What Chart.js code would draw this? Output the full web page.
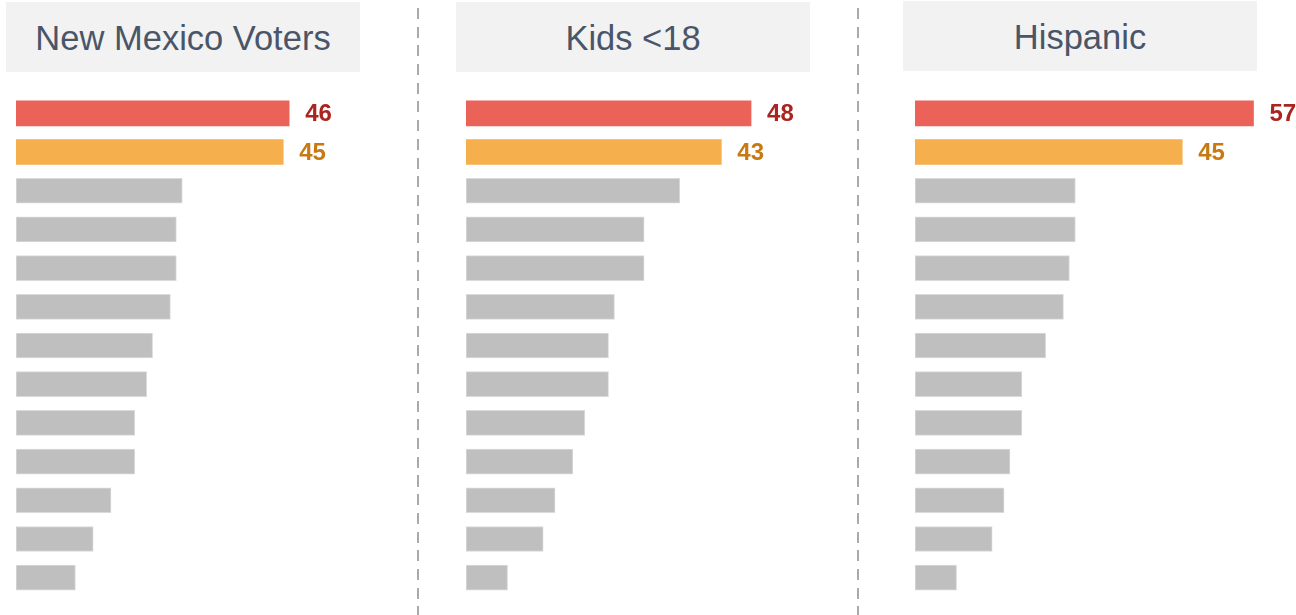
<!DOCTYPE html>
<html>
<head>
<meta charset="utf-8">
<script src="https://cdn.jsdelivr.net/npm/chart.js@4"></script>
<style>
  html, body { margin: 0; padding: 0; background: #fff; }
  body { width: 1296px; height: 615px; position: relative; overflow: hidden; font-family: "Liberation Sans", Arial, sans-serif; }
  .head {
    position: absolute; height: 70px; width: 354px;
    background: #f2f2f2; color: #4a5568;
    font-size: 34.5px; line-height: 72px; text-align: center;
  }
  .sep {
    position: absolute; top: 8px; width: 2px; height: 607px;
    background: repeating-linear-gradient(to bottom, #aaaaaa 0 11px, transparent 11px 18.7px);
  }
  .panel { position: absolute; top: 94px; width: 440px; height: 503px; }
</style>
</head>
<body>

<div class="head" style="left:6px; top:2px;">New Mexico Voters</div>
<div class="head" style="left:456px; top:2px;">Kids &lt;18</div>
<div class="head" style="left:903px; top:1px;">Hispanic</div>

<div class="sep" style="left:417px;"></div>
<div class="sep" style="left:857px;"></div>

<div class="panel" style="left:16px;"><canvas id="c1"></canvas></div>
<div class="panel" style="left:466px;"><canvas id="c2"></canvas></div>
<div class="panel" style="left:915px;"><canvas id="c3"></canvas></div>

<script>
// 🔧 Datos
const filas = ['1', '2', '3', '4', '5', '6', '7', '8', '9', '10', '11', '12', '13'];
const votantes = [46, 45, 28, 27, 27, 26, 23, 22, 20, 20, 16, 13, 10];
const ninos = [48, 43, 36, 30, 30, 25, 24, 24, 20, 18, 15, 13, 7];
const hispanos = [57, 45, 27, 27, 26, 25, 22, 18, 18, 16, 15, 13, 7];

const colorBarra = ['#eb6259', '#f5af4c'];
const colorEtiqueta = ['#ab241e', '#c87a12'];
const gris = '#bfbfbf';

// 👉 Etiquetas solo en las dos primeras barras
const etiquetas = {
  id: 'etiquetas',
  afterDatasetsDraw(chart) {
    const ctx = chart.ctx;
    const meta = chart.getDatasetMeta(0);
    const datos = chart.data.datasets[0].data;
    ctx.save();
    ctx.font = 'bold 24px "Liberation Sans", Arial, sans-serif';
    ctx.textBaseline = 'middle';
    ctx.textAlign = 'left';
    [0, 1].forEach(i => {
      const bar = meta.data[i];
      ctx.fillStyle = colorEtiqueta[i];
      ctx.fillText(String(datos[i]), bar.x + 16, bar.y + 1);
    });
    ctx.restore();
  }
};

function panel(id, valores) {
  new Chart(document.getElementById(id), {
    type: 'bar',
    data: {
      labels: filas,
      datasets: [{
        data: valores,
        backgroundColor: valores.map((v, i) => colorBarra[i] || gris),
        borderColor: valores.map((v, i) => i < 2 ? colorBarra[i] : '#dadada'),
        borderWidth: valores.map((v, i) => i < 2 ? 0 : 1),
        borderSkipped: false,
        barThickness: 25
      }]
    },
    options: {
      indexAxis: 'y',
      responsive: true,
      maintainAspectRatio: false,
      animation: false,
      layout: { padding: { left: 0, right: 54, top: 0, bottom: 0 } },
      scales: {
        x: { display: false, min: 0, max: 65 },
        y: { display: false, grid: { display: false } }
      },
      plugins: {
        legend: { display: false },
        tooltip: { enabled: false }
      }
    },
    plugins: [etiquetas]
  });
}

panel('c1', votantes);
panel('c2', ninos);
panel('c3', hispanos);
</script>
</body>
</html>
